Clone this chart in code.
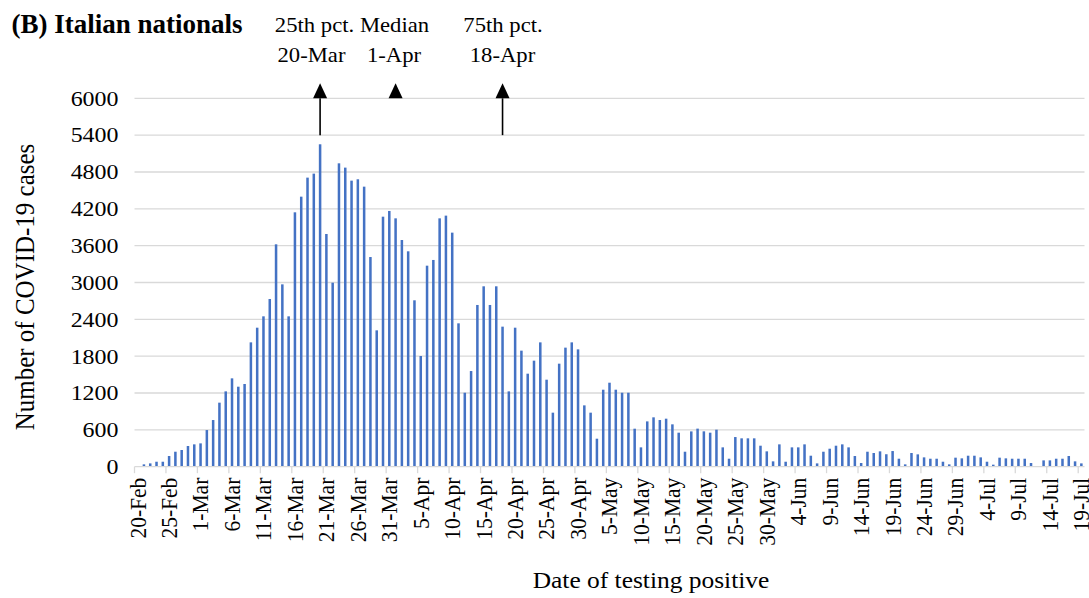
<!DOCTYPE html>
<html>
<head>
<meta charset="utf-8">
<script src="https://cdn.jsdelivr.net/npm/d3@7"></script>
<style>
  html, body { margin: 0; padding: 0; background: #fff; }
  svg { display: block; }
</style>
</head>
<body>
<div id="chart"></div>
<script>
// Daily cases, 20-Feb to 19-Jul.
const firstDay = new Date(2020, 1, 20);
const lastDay = new Date(2020, 6, 19);
const cases = [
  0, 38, 54, 81, 81, 174, 244, 272, 337, 364,
  380, 597, 760, 1043, 1227, 1439, 1303, 1347, 2025, 2264,
  2449, 2731, 3622, 2970, 2449, 4143, 4398, 4708, 4773, 5251,
  3790, 2997, 4941, 4871, 4659, 4681, 4561, 3415, 2221, 4072,
  4165, 4045, 3692, 3508, 2710, 1803, 3274, 3367, 4045, 4089,
  3812, 2335, 1205, 1558, 2634, 2938, 2634, 2938, 2281, 1227,
  2264, 1890, 1515, 1727, 2025, 1417, 880, 1678, 1939, 2025,
  1911, 999, 880, 456, 1254, 1368, 1254, 1205, 1205, 619,
  315, 738, 804, 760, 782, 690, 554, 244, 575, 620,
  576, 554, 603, 315, 130, 483, 462, 462, 462, 342,
  250, 87, 364, 81, 315, 315, 364, 179, 54, 244,
  293, 342, 364, 315, 174, 60, 244, 223, 250, 203,
  255, 130, 38, 223, 201, 152, 130, 130, 81, 38,
  147, 136, 179, 179, 152, 81, 33, 147, 136, 130,
  130, 130, 60, 0, 103, 103, 130, 130, 174, 87,
  54,
];
const yTicks = [0, 600, 1200, 1800, 2400, 3000, 3600, 4200, 4800, 5400, 6000];
const tickEvery = 5;

// Percentile markers.
const markerNames = ["25th pct.", "Median", "75th pct."];
const markerDates = ["20-Mar", "1-Apr", "18-Apr"];
const markerStems = [true, false, true];

const fmt = d3.timeFormat("%-d-%b");
const days = d3.timeDay.range(firstDay, d3.timeDay.offset(lastDay, 1)).map(fmt);

/**
 * SVG container.
 */
const width = 1089;
const height = 598;
const marginTop = 98.3;
const marginRight = 4.5;
const marginBottom = 131.3;
const marginLeft = 134.5;
const font = "'Liberation Serif', 'Times New Roman', serif";

const svg = d3
  .select("#chart")
  .append("svg")
  .attr("width", width)
  .attr("height", height)
  .attr("font-family", font);

// The source figure is slightly stretched sideways; mimic it on the text.
const place = (px, py, sx, rot = 0) =>
  `translate(${px},${py}) scale(${sx},1)` + (rot ? ` rotate(${rot})` : "");

/**
 * Scales.
 */
const x = d3
  .scaleBand()
  .domain(days)
  .range([marginLeft, width - marginRight])
  .paddingInner(0.6)
  .paddingOuter(0.3);

const y = d3
  .scaleLinear()
  .domain([0, 6000])
  .range([height - marginBottom, marginTop]);

const step = x.step();
const center = (d) => x(d) + x.bandwidth() / 2;
const leftEdge = (d) => x(d) - (step - x.bandwidth()) / 2;

/**
 * Grid and y axis.
 */
svg
  .append("g")
  .selectAll("line")
  .data(yTicks.filter((t) => t > 0))
  .join("line")
  .attr("x1", marginLeft)
  .attr("x2", width - marginRight)
  .attr("y1", (d) => y(d))
  .attr("y2", (d) => y(d))
  .attr("stroke", "#d9d9d9")
  .attr("stroke-width", 1.3);

svg
  .append("g")
  .selectAll("text")
  .data(yTicks)
  .join("text")
  .attr("transform", (d) => place(118.5, y(d), 1.14))
  .attr("dy", "0.35em")
  .attr("text-anchor", "end")
  .attr("font-size", 21)
  .attr("fill", "#000")
  .text((d) => d);

/**
 * Bars.
 */
svg
  .append("g")
  .selectAll("rect")
  .data(cases)
  .join("rect")
  .attr("x", (d, i) => x(days[i]))
  .attr("width", x.bandwidth())
  .attr("y", (d) => y(d))
  .attr("height", (d) => y(0) - y(d))
  .attr("fill", "#4472c4");

/**
 * X axis.
 */
const labelled = days.filter((d, i) => i % tickEvery === 0);

svg
  .append("line")
  .attr("x1", marginLeft)
  .attr("x2", width - marginRight)
  .attr("y1", y(0))
  .attr("y2", y(0))
  .attr("stroke", "#d9d9d9")
  .attr("stroke-width", 1.3);

svg
  .append("g")
  .selectAll("line")
  .data(labelled)
  .join("line")
  .attr("x1", (d) => leftEdge(d))
  .attr("x2", (d) => leftEdge(d))
  .attr("y1", y(0))
  .attr("y2", y(0) + 6.5)
  .attr("stroke", "#d9d9d9")
  .attr("stroke-width", 1.3);

svg
  .append("g")
  .selectAll("text")
  .data(labelled)
  .join("text")
  .attr("transform", (d) => place(center(d), y(0) + 11, 1.05, -90))
  .attr("dy", "0.35em")
  .attr("text-anchor", "end")
  .attr("font-size", 21.5)
  .attr("fill", "#000")
  .text((d) => d);

/**
 * Axis titles.
 */
svg
  .append("text")
  .attr("transform", place(34, 287, 1.1, -90))
  .attr("text-anchor", "middle")
  .attr("font-size", 25)
  .text("Number of COVID-19 cases");

svg
  .append("text")
  .attr("transform", place(651, 588, 1.06))
  .attr("text-anchor", "middle")
  .attr("font-size", 24)
  .text("Date of testing positive");

/**
 * Percentile arrows and labels.
 */
const markers = markerNames.map((name, i) => ({
  name,
  day: markerDates[i],
  stem: markerStems[i],
}));

const marks = svg.append("g").selectAll("g").data(markers).join("g");

marks
  .filter((d) => d.stem)
  .append("line")
  .attr("x1", (d) => center(d.day))
  .attr("x2", (d) => center(d.day))
  .attr("y1", y(5400))
  .attr("y2", y(6000))
  .attr("stroke", "#000")
  .attr("stroke-width", 1.6);

marks
  .append("path")
  .attr("d", (d) => {
    const cx = center(d.day);
    const base = y(6000);
    return `M${cx - 7},${base}L${cx + 7},${base}L${cx},${base - 15}Z`;
  })
  .attr("fill", "#000");

const labelX = { "25th pct.": [314.5, 311.5], Median: [394.5, 394], "75th pct.": [503, 502.5] };

marks
  .append("text")
  .attr("transform", (d) => place(labelX[d.name][0], 31.5, 1.03))
  .attr("text-anchor", "middle")
  .attr("font-size", 22)
  .text((d) => d.name);

marks
  .append("text")
  .attr("transform", (d) => place(labelX[d.name][1], 62, 1.03))
  .attr("text-anchor", "middle")
  .attr("font-size", 22)
  .text((d) => d.day);

/**
 * Title.
 */
svg
  .append("text")
  .attr("x", 11.5)
  .attr("y", 33)
  .attr("font-size", 27)
  .attr("font-weight", "bold")
  .text("(B) Italian nationals");
</script>
</body>
</html>
